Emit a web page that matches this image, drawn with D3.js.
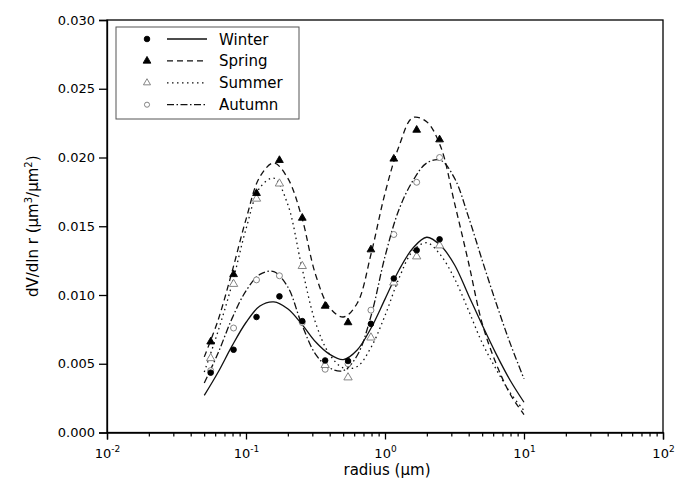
<!DOCTYPE html>
<html><head><meta charset="utf-8">
<script src="https://cdn.jsdelivr.net/npm/d3@7"></script>
<style>body{margin:0;background:#fff}svg{display:block}</style>
</head><body><svg id="chart" width="675" height="480"></svg>
<script>
// ---------- data ----------
const seasons = ["Winter", "Spring", "Summer", "Autumn"];

// measured points (radius in µm)
const pointRadii = [0.0557, 0.0814, 0.119, 0.174, 0.254, 0.371, 0.542, 0.792, 1.157, 1.69, 2.47];
const winterPoints = [0.00435, 0.00602, 0.0084, 0.0099, 0.0081, 0.00524, 0.0052, 0.0079, 0.0112, 0.01325, 0.01405];
const springPoints = [0.0066, 0.0115, 0.0174, 0.0198, 0.0156, 0.0092, 0.0080, 0.0133, 0.0199, 0.0220, 0.0213];
const summerPoints = [0.0054, 0.0108, 0.0170, 0.0181, 0.0121, 0.0049, 0.0040, 0.0069, 0.0109, 0.0128, 0.0136];
const autumnPoints = [0.0045, 0.0076, 0.0111, 0.0114, 0.0080, 0.0046, 0.0050, 0.0089, 0.0144, 0.0182, 0.0200];

// fitted curves, read at radii along the curve
const fitRadii = [0.0501, 0.0631, 0.0794, 0.1, 0.1259, 0.1585, 0.1995, 0.2512, 0.3162, 0.3981, 0.5012, 0.631,
                  0.7943, 1.0, 1.259, 1.585, 1.995, 2.512, 3.162, 3.981, 5.012, 6.31, 7.943, 10.0];
const winterFit = [0.0027, 0.0044, 0.0063, 0.0080, 0.0092, 0.0095, 0.0090, 0.0079, 0.0066, 0.0057, 0.0053, 0.0060,
                   0.0076, 0.0097, 0.0118, 0.0134, 0.0142, 0.0136, 0.0122, 0.0100, 0.0078, 0.0057, 0.0038, 0.0022];
const springFit = [0.0055, 0.0082, 0.0117, 0.0155, 0.0186, 0.0196, 0.0185, 0.0157, 0.0115, 0.0091, 0.0084, 0.0094,
                   0.0130, 0.0174, 0.0208, 0.0229, 0.0226, 0.0208, 0.0167, 0.0124, 0.0079, 0.0050, 0.0028, 0.0013];
const summerFit = [0.0044, 0.0074, 0.0108, 0.0148, 0.0178, 0.0185, 0.0166, 0.0121, 0.0080, 0.0057, 0.0047, 0.0048,
                   0.0062, 0.0085, 0.0112, 0.0132, 0.0138, 0.0129, 0.0112, 0.0089, 0.0065, 0.0046, 0.0029, 0.0016];
const autumnFit = [0.0036, 0.0058, 0.0083, 0.0103, 0.0115, 0.0117, 0.0106, 0.0079, 0.0057, 0.0047, 0.0045, 0.0056,
                   0.0085, 0.0128, 0.0162, 0.0183, 0.0196, 0.0198, 0.0185, 0.0157, 0.0125, 0.0094, 0.0065, 0.0039];

// axes
const yTicks = [0, 0.005, 0.010, 0.015, 0.020, 0.025, 0.030];
const xMajorTicks = [0.01, 0.1, 1, 10, 100];
const xTickExponents = ["-2", "-1", "0", "1", "2"];
const xTitle = "radius (";
const yTitle = "dV/dln r (";

// ---------- drawing ----------
const svg = d3.select("#chart");
const FONT = "DejaVu Sans, Verdana, sans-serif";
const plot = {left: 107, right: 663, top: 20, bottom: 432.5};

const x = d3.scaleLog().domain([0.01, 100]).range([plot.left, plot.right]);
const y = d3.scaleLinear().domain([0, 0.03]).range([plot.bottom, plot.top]);

const styles = {
  Winter: {dash: null, marker: "circle", fill: "#000", stroke: "#000"},
  Spring: {dash: "6,4", marker: "triangle", fill: "#000", stroke: "#000"},
  Summer: {dash: "1.5,3.5", marker: "triangle", fill: "#fff", stroke: "#777"},
  Autumn: {dash: "7,2.5,1.5,2.5", marker: "circle", fill: "#fff", stroke: "#777"}
};
const fits = {Winter: winterFit, Spring: springFit, Summer: summerFit, Autumn: autumnFit};
const pts = {Winter: winterPoints, Spring: springPoints, Summer: summerPoints, Autumn: autumnPoints};

// frame
svg.append("rect").attr("x", plot.left).attr("y", plot.top)
  .attr("width", plot.right - plot.left).attr("height", plot.bottom - plot.top)
  .attr("fill", "none").attr("stroke", "#000").attr("stroke-width", 1.3);

// x axis minor ticks
const minorTicks = x.ticks().filter(t => !xMajorTicks.some(m => Math.abs(m - t) / m < 1e-6));
svg.append("g").attr("transform", `translate(0,${plot.bottom})`)
  .call(d3.axisBottom(x).tickValues(minorTicks).tickSize(4).tickFormat(""))
  .call(g => g.select(".domain").remove())
  .selectAll("line").attr("stroke", "#000").attr("stroke-width", 1.2);

// x axis major ticks + labels
const xAxisG = svg.append("g").attr("transform", `translate(0,${plot.bottom})`)
  .call(d3.axisBottom(x).tickValues(xMajorTicks).tickSize(7).tickFormat(""));
xAxisG.select(".domain").attr("stroke", "#000").attr("stroke-width", 1.3);
xAxisG.selectAll("line").attr("stroke", "#000").attr("stroke-width", 1.3);
xAxisG.selectAll(".tick").each(function(d, i) {
  const t = d3.select(this).append("text")
    .attr("y", 25).attr("text-anchor", "middle").attr("fill", "#000")
    .style("font-family", FONT).style("font-size", "13px");
  t.append("tspan").text("10");
  t.append("tspan").attr("dy", -6).style("font-size", "9px").text(xTickExponents[i]);
});

// y axis
const yAxisG = svg.append("g").attr("transform", `translate(${plot.left},0)`)
  .call(d3.axisLeft(y).tickValues(yTicks).tickSize(8).tickPadding(4).tickFormat(d3.format(".3f")));
yAxisG.select(".domain").attr("stroke", "#000").attr("stroke-width", 1.3);
yAxisG.selectAll("line").attr("stroke", "#000").attr("stroke-width", 1.3);
yAxisG.selectAll("text").attr("fill", "#000").style("font-family", FONT).style("font-size", "13px");

// axis titles
const xt = svg.append("text").attr("x", (plot.left + plot.right) / 2 + 2).attr("y", 475)
  .attr("text-anchor", "middle").style("font-family", FONT).style("font-size", "15px").attr("fill", "#000");
xt.append("tspan").text(xTitle);
xt.append("tspan").text("\u03bcm)");

const yt = svg.append("text").attr("transform", `translate(38,${(plot.top + plot.bottom) / 2}) rotate(-90)`)
  .attr("text-anchor", "middle").style("font-family", FONT).style("font-size", "15px").attr("fill", "#000");
yt.append("tspan").text(yTitle + "\u03bcm");
yt.append("tspan").attr("dy", -6).style("font-size", "10px").text("3");
yt.append("tspan").attr("dy", 6).text("/\u03bcm");
yt.append("tspan").attr("dy", -6).style("font-size", "10px").text("2");
yt.append("tspan").attr("dy", 6).text(")");

// fit curves
const line = d3.line().x(d => x(d[0])).y(d => y(d[1])).curve(d3.curveCatmullRom.alpha(0.5));
seasons.forEach(s => {
  const data = fitRadii.map((r, i) => [r, fits[s][i]]);
  svg.append("path").datum(data).attr("d", line)
    .attr("fill", "none").attr("stroke", "#111").attr("stroke-width", 1.3)
    .attr("stroke-dasharray", styles[s].dash);
});

// markers
function drawMarker(g, s, cx, cy, scale) {
  const st = styles[s];
  if (st.marker === "circle") {
    g.append("circle").attr("cx", cx).attr("cy", cy).attr("r", st.fill === "#000" ? 2.8 * scale : 3 * scale)
      .attr("fill", st.fill).attr("stroke", st.stroke).attr("stroke-width", 0.9);
  } else {
    g.append("path").attr("transform", `translate(${cx},${cy})`)
      .attr("d", d3.symbol(d3.symbolTriangle, (st.fill === "#000" ? 26 : 30) * scale * scale)())
      .attr("fill", st.fill).attr("stroke", st.stroke).attr("stroke-width", 0.9);
  }
}
const markG = svg.append("g");
["Autumn", "Summer", "Spring", "Winter"].forEach(s => {
  pointRadii.forEach((r, i) => drawMarker(markG, s, x(r), y(pts[s][i]), 1));
});

// legend
const lg = svg.append("g");
lg.append("rect").attr("x", 116).attr("y", 27).attr("width", 183).attr("height", 92)
  .attr("fill", "#fff").attr("stroke", "#555").attr("stroke-width", 1);
seasons.forEach((s, i) => {
  const cy = 39 + i * 21.9;
  drawMarker(lg, s, 147, cy, s === "Summer" || s === "Autumn" ? 0.85 : 1);
  lg.append("line").attr("x1", 167).attr("x2", 207).attr("y1", cy).attr("y2", cy)
    .attr("stroke", "#111").attr("stroke-width", 1.3).attr("stroke-dasharray", styles[s].dash);
  lg.append("text").attr("x", 219).attr("y", cy + 5.5).text(s)
    .style("font-family", FONT).style("font-size", "15px").attr("fill", "#000");
});
</script></body></html>
